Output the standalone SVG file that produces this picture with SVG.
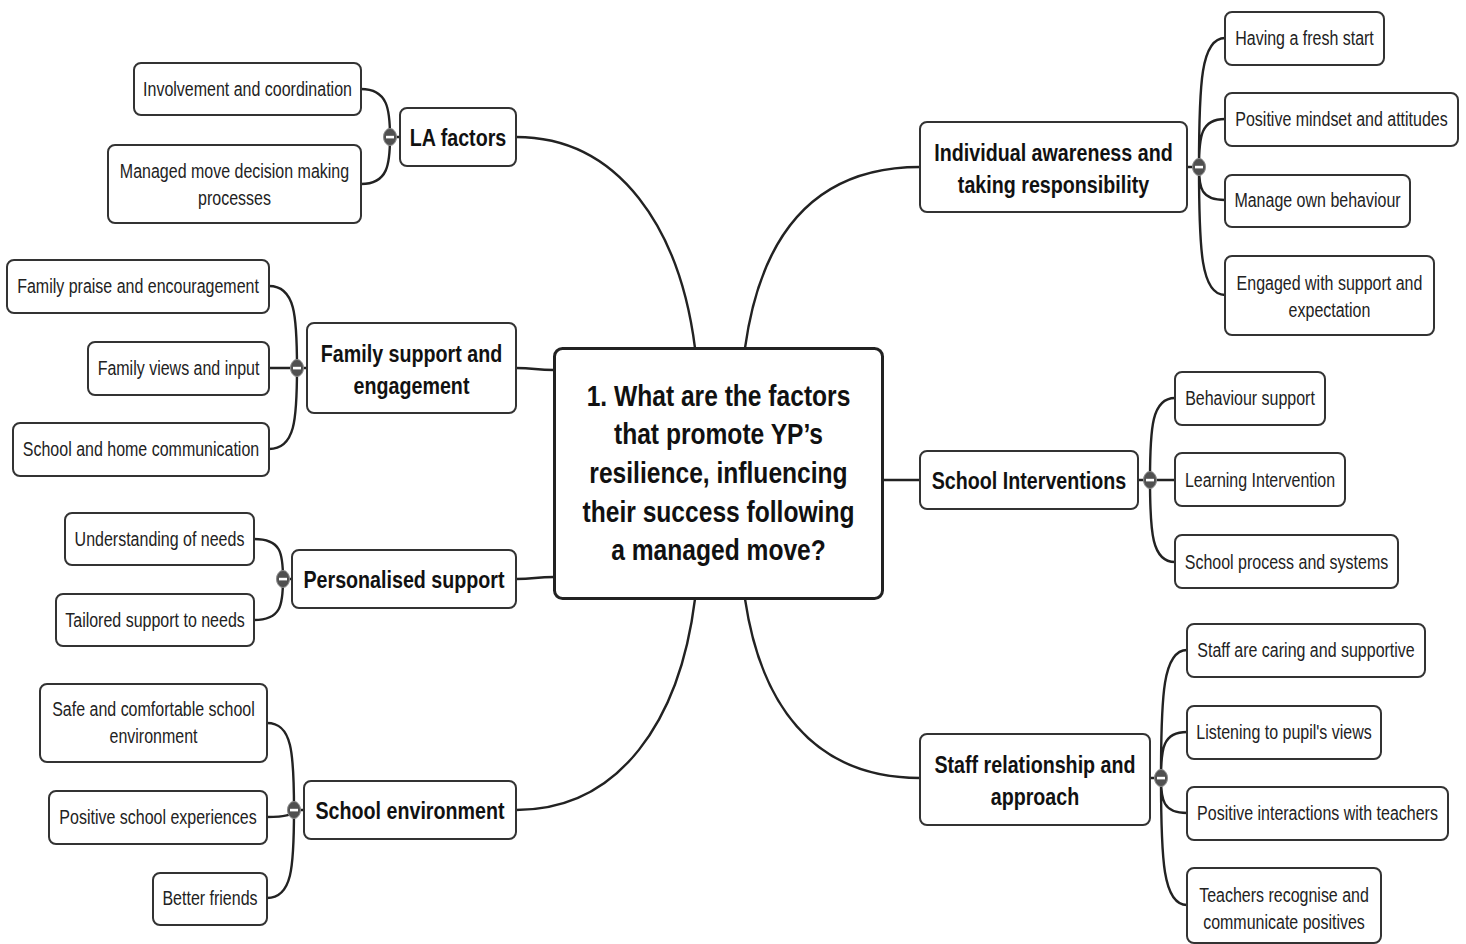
<svg xmlns="http://www.w3.org/2000/svg" width="1466" height="944" viewBox="0 0 1466 944">
<style>
.bg{fill:#ffffff}
.box{fill:#ffffff;stroke:#333333;stroke-width:2}
.cbox{fill:#ffffff;stroke:#222222;stroke-width:3}
.con{fill:none;stroke:#222222;stroke-width:2.4}
.leaf{font-family:"Liberation Sans",Arial,sans-serif;font-size:19.5px;fill:#222222}
.main{font-family:"Liberation Sans",Arial,sans-serif;font-size:24px;font-weight:bold;fill:#111111}
.ctr{font-family:"Liberation Sans",Arial,sans-serif;font-size:30px;font-weight:bold;fill:#111111}
.btn{fill:#505050;stroke:#8a8a8a;stroke-width:1}
.minus{fill:#ffffff}
</style>
<rect class="bg" x="0" y="0" width="1466" height="944"/>
<g id="connectors">
<path class="con" d="M516,137 C620,137 680,230 695,348"/>
<path class="con" d="M516,368 C535,368 535,370 554,370"/>
<path class="con" d="M516,579 C535,579 535,577 554,577"/>
<path class="con" d="M516,810 C620,810 680,720 695,599"/>
<path class="con" d="M920,167 C810,167 760,240 745,348"/>
<path class="con" d="M883,480 L920,480"/>
<path class="con" d="M920,778 C810,778 760,700 745,599"/>
<path class="con" d="M400,137 L390,137 M307,368 L297,368 M292,579 L283,579 M304,810 L294,810 M1187,167 L1199,167 M1138,480 L1150,480 M1150,778 L1161,778"/>
<path class="con" d="M361,89 C388,89 390,110 390,137 M361,184 C388,184 390,164 390,137"/>
<path class="con" d="M269,286 C295,286 297,315 297,368 M269,368 L297,368 M269,449 C295,449 297,420 297,368"/>
<path class="con" d="M254,539 C281,539 283,553 283,579 M254,620 C281,620 283,605 283,579"/>
<path class="con" d="M267,723 C292,723 294,752 294,810 M267,817 C285,817 294,815 294,810 M267,898 C292,898 294,868 294,810"/>
<path class="con" d="M1225,38 C1201,38 1199,83 1199,167 M1225,119 C1201,119 1199,136 1199,167 M1225,200 C1201,200 1199,188 1199,167 M1225,295 C1201,295 1199,250 1199,167"/>
<path class="con" d="M1175,398 C1152,398 1150,427 1150,480 M1175,480 L1150,480 M1175,562 C1152,562 1150,533 1150,480"/>
<path class="con" d="M1187,650 C1163,650 1161,695 1161,778 M1187,732 C1163,732 1161,748 1161,778 M1187,813 C1163,813 1161,800 1161,778 M1187,905 C1163,905 1161,860 1161,778"/>
</g>
<g id="central">
<rect class="cbox" x="554.5" y="348.5" width="328" height="250" rx="8"/>
<text class="ctr" text-anchor="middle" transform="translate(718.5,405.5) scale(0.82,1)"><tspan x="0" dy="0">1. What are the factors</tspan><tspan x="0" dy="39">that promote YP’s</tspan><tspan x="0" dy="39">resilience, influencing</tspan><tspan x="0" dy="39">their success following</tspan><tspan x="0" dy="38">a managed move?</tspan></text>
</g>
<g id="la-factors">
<rect class="box" x="400" y="108" width="116" height="58" rx="7"/>
<text class="main" text-anchor="middle" transform="translate(458,145.5) scale(0.82,1)">LA factors</text>
<ellipse class="btn" cx="390" cy="137" rx="6.5" ry="8.5"/><rect class="minus" x="386" y="135.8" width="8" height="2.6"/>
</g>
<g id="family-support">
<rect class="box" x="307" y="323" width="209" height="90" rx="7"/>
<text class="main" text-anchor="middle" transform="translate(411.5,361.5) scale(0.82,1)"><tspan x="0" dy="0">Family support and</tspan><tspan x="0" dy="33">engagement</tspan></text>
<ellipse class="btn" cx="297" cy="368" rx="6.5" ry="8.5"/><rect class="minus" x="293" y="366.8" width="8" height="2.6"/>
</g>
<g id="personalised-support">
<rect class="box" x="292" y="550" width="224" height="58" rx="7"/>
<text class="main" text-anchor="middle" transform="translate(404,587.5) scale(0.82,1)">Personalised support</text>
<ellipse class="btn" cx="283" cy="579" rx="6.5" ry="8.5"/><rect class="minus" x="279" y="577.8" width="8" height="2.6"/>
</g>
<g id="school-environment">
<rect class="box" x="304" y="781" width="212" height="58" rx="7"/>
<text class="main" text-anchor="middle" transform="translate(410,818.5) scale(0.82,1)">School environment</text>
<ellipse class="btn" cx="294" cy="810" rx="6.5" ry="8.5"/><rect class="minus" x="290" y="808.8" width="8" height="2.6"/>
</g>
<g id="individual-awareness">
<rect class="box" x="920" y="122" width="267" height="90" rx="7"/>
<text class="main" text-anchor="middle" transform="translate(1053.5,160.5) scale(0.82,1)"><tspan x="0" dy="0">Individual awareness and</tspan><tspan x="0" dy="33">taking responsibility</tspan></text>
<ellipse class="btn" cx="1199" cy="167" rx="6.5" ry="8.5"/><rect class="minus" x="1195" y="165.8" width="8" height="2.6"/>
</g>
<g id="school-interventions">
<rect class="box" x="920" y="451" width="218" height="58" rx="7"/>
<text class="main" text-anchor="middle" transform="translate(1029,488.5) scale(0.82,1)">School Interventions</text>
<ellipse class="btn" cx="1150" cy="480" rx="6.5" ry="8.5"/><rect class="minus" x="1146" y="478.8" width="8" height="2.6"/>
</g>
<g id="staff-relationship">
<rect class="box" x="920" y="734" width="230" height="91" rx="7"/>
<text class="main" text-anchor="middle" transform="translate(1035,772.5) scale(0.82,1)"><tspan x="0" dy="0">Staff relationship and</tspan><tspan x="0" dy="33">approach</tspan></text>
<ellipse class="btn" cx="1161" cy="778" rx="6.5" ry="8.5"/><rect class="minus" x="1157" y="776.8" width="8" height="2.6"/>
</g>
<g id="involvement"><rect class="box" x="134" y="63" width="227" height="52" rx="7"/><text class="leaf" text-anchor="middle" transform="translate(247.5,96) scale(0.82,1)">Involvement and coordination</text></g>
<g id="managed-move"><rect class="box" x="108" y="145" width="253" height="78" rx="7"/><text class="leaf" text-anchor="middle" transform="translate(234.5,178) scale(0.82,1)"><tspan x="0" dy="0">Managed move decision making</tspan><tspan x="0" dy="27">processes</tspan></text></g>
<g id="family-praise"><rect class="box" x="7" y="260" width="262" height="53" rx="7"/><text class="leaf" text-anchor="middle" transform="translate(138,293) scale(0.82,1)">Family praise and encouragement</text></g>
<g id="family-views"><rect class="box" x="88" y="342" width="181" height="53" rx="7"/><text class="leaf" text-anchor="middle" transform="translate(178.5,375) scale(0.82,1)">Family views and input</text></g>
<g id="school-home"><rect class="box" x="13" y="423" width="256" height="53" rx="7"/><text class="leaf" text-anchor="middle" transform="translate(141,456) scale(0.82,1)">School and home communication</text></g>
<g id="understanding"><rect class="box" x="65" y="513" width="189" height="52" rx="7"/><text class="leaf" text-anchor="middle" transform="translate(159.5,546) scale(0.82,1)">Understanding of needs</text></g>
<g id="tailored"><rect class="box" x="56" y="594" width="198" height="52" rx="7"/><text class="leaf" text-anchor="middle" transform="translate(155,627) scale(0.82,1)">Tailored support to needs</text></g>
<g id="safe-comfortable"><rect class="box" x="40" y="684" width="227" height="78" rx="7"/><text class="leaf" text-anchor="middle" transform="translate(153.5,716) scale(0.82,1)"><tspan x="0" dy="0">Safe and comfortable school</tspan><tspan x="0" dy="27">environment</tspan></text></g>
<g id="positive-school"><rect class="box" x="49" y="791" width="218" height="53" rx="7"/><text class="leaf" text-anchor="middle" transform="translate(158,824) scale(0.82,1)">Positive school experiences</text></g>
<g id="better-friends"><rect class="box" x="153" y="873" width="114" height="52" rx="7"/><text class="leaf" text-anchor="middle" transform="translate(210,905) scale(0.82,1)">Better friends</text></g>
<g id="fresh-start"><rect class="box" x="1225" y="12" width="159" height="53" rx="7"/><text class="leaf" text-anchor="middle" transform="translate(1304.5,45) scale(0.82,1)">Having a fresh start</text></g>
<g id="positive-mindset"><rect class="box" x="1225" y="93" width="233" height="53" rx="7"/><text class="leaf" text-anchor="middle" transform="translate(1341.5,126) scale(0.82,1)">Positive mindset and attitudes</text></g>
<g id="manage-behaviour"><rect class="box" x="1225" y="175" width="185" height="52" rx="7"/><text class="leaf" text-anchor="middle" transform="translate(1317.5,207) scale(0.82,1)">Manage own behaviour</text></g>
<g id="engaged-support"><rect class="box" x="1225" y="256" width="209" height="79" rx="7"/><text class="leaf" text-anchor="middle" transform="translate(1329.5,290) scale(0.82,1)"><tspan x="0" dy="0">Engaged with support and</tspan><tspan x="0" dy="27">expectation</tspan></text></g>
<g id="behaviour-support"><rect class="box" x="1175" y="372" width="150" height="53" rx="7"/><text class="leaf" text-anchor="middle" transform="translate(1250,405) scale(0.82,1)">Behaviour support</text></g>
<g id="learning-intervention"><rect class="box" x="1175" y="453" width="170" height="53" rx="7"/><text class="leaf" text-anchor="middle" transform="translate(1260,487) scale(0.82,1)">Learning Intervention</text></g>
<g id="school-process"><rect class="box" x="1175" y="535" width="223" height="53" rx="7"/><text class="leaf" text-anchor="middle" transform="translate(1286.5,569) scale(0.82,1)">School process and systems</text></g>
<g id="staff-caring"><rect class="box" x="1187" y="624" width="238" height="53" rx="7"/><text class="leaf" text-anchor="middle" transform="translate(1306,657) scale(0.82,1)">Staff are caring and supportive</text></g>
<g id="listening"><rect class="box" x="1187" y="706" width="194" height="53" rx="7"/><text class="leaf" text-anchor="middle" transform="translate(1284,739) scale(0.82,1)">Listening to pupil's views</text></g>
<g id="positive-interactions"><rect class="box" x="1187" y="787" width="261" height="53" rx="7"/><text class="leaf" text-anchor="middle" transform="translate(1317.5,820) scale(0.82,1)">Positive interactions with teachers</text></g>
<g id="teachers-recognise"><rect class="box" x="1187" y="868" width="194" height="75" rx="7"/><text class="leaf" text-anchor="middle" transform="translate(1284,902) scale(0.82,1)"><tspan x="0" dy="0">Teachers recognise and</tspan><tspan x="0" dy="27">communicate positives</tspan></text></g>
</svg>
